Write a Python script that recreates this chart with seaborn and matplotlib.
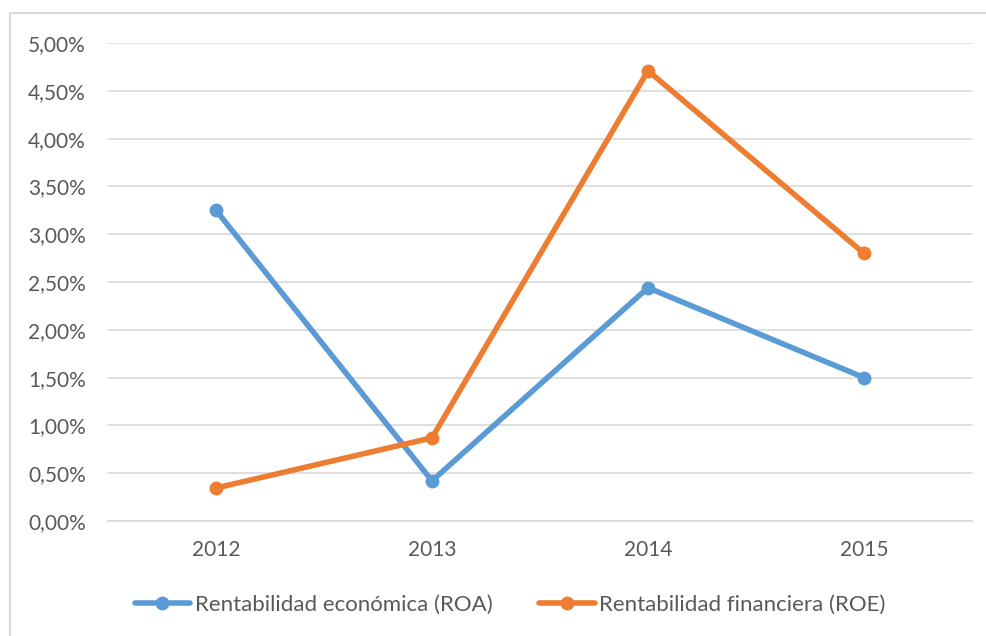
import numpy as np
import pandas as pd
import seaborn as sns
import matplotlib.pyplot as plt
from matplotlib.patches import Rectangle
from matplotlib.ticker import FuncFormatter

years = ['2012', '2013', '2014', '2015']
roa = [3.25, 0.42, 2.44, 1.50]
roe = [0.345, 0.87, 4.71, 2.80]
series_names = ['Rentabilidad económica (ROA)', 'Rentabilidad financiera (ROE)']

df = pd.DataFrame({
    'year': years * 2,
    'value': roa + roe,
    'serie': [series_names[0]] * 4 + [series_names[1]] * 4,
})

sns.set_theme(style='white')
plt.rcParams['font.family'] = ['Lato', 'DejaVu Sans']

fig = plt.figure(figsize=(9.86, 6.36), dpi=100)
ax = fig.add_axes([108 / 986, 1 - 521 / 636, 864 / 986, 478 / 636])

# outer chart frame
fig.patches.append(Rectangle((10 / 986, -0.1), 1.2, 1 - 13 / 636 + 0.1,
                             transform=fig.transFigure, fill=False,
                             edgecolor='#d9d9d9', linewidth=1.5))

palette = {series_names[0]: '#5b9bd5', series_names[1]: '#ed7d31'}
sns.lineplot(data=df, x='year', y='value', hue='serie', palette=palette,
             marker='o', markersize=10, markeredgewidth=0, linewidth=4,
             sort=False, ax=ax, zorder=3)

ax.set_xlim(-0.5, 3.5)
ax.set_ylim(0, 5)
ax.set_yticks(np.arange(0, 5.01, 0.5))
ax.yaxis.set_major_formatter(FuncFormatter(lambda v, p: f'{v:.2f}%'.replace('.', ',')))
ax.grid(axis='y', color='#d9d9d9', linewidth=1.2)
ax.set_axisbelow(True)
for s in ['top', 'right', 'left']:
    ax.spines[s].set_visible(False)
ax.spines['bottom'].set_color('#d9d9d9')
ax.spines['bottom'].set_linewidth(1.2)
ax.tick_params(axis='both', length=0, labelsize=15, labelcolor='#595959')
ax.tick_params(axis='y', pad=16)
ax.tick_params(axis='x', pad=14)
ax.set_xlabel('')
ax.set_ylabel('')

handles, labels = ax.get_legend_handles_labels()
ax.get_legend().remove()
fig.legend(handles, labels, loc='center', bbox_to_anchor=(510 / 986, 1 - 605 / 636),
           ncol=2, frameon=False, fontsize=16, labelcolor='#595959',
           handlelength=2.5, handletextpad=0.2, columnspacing=2.1)

fig.savefig('out.png', dpi=100)
